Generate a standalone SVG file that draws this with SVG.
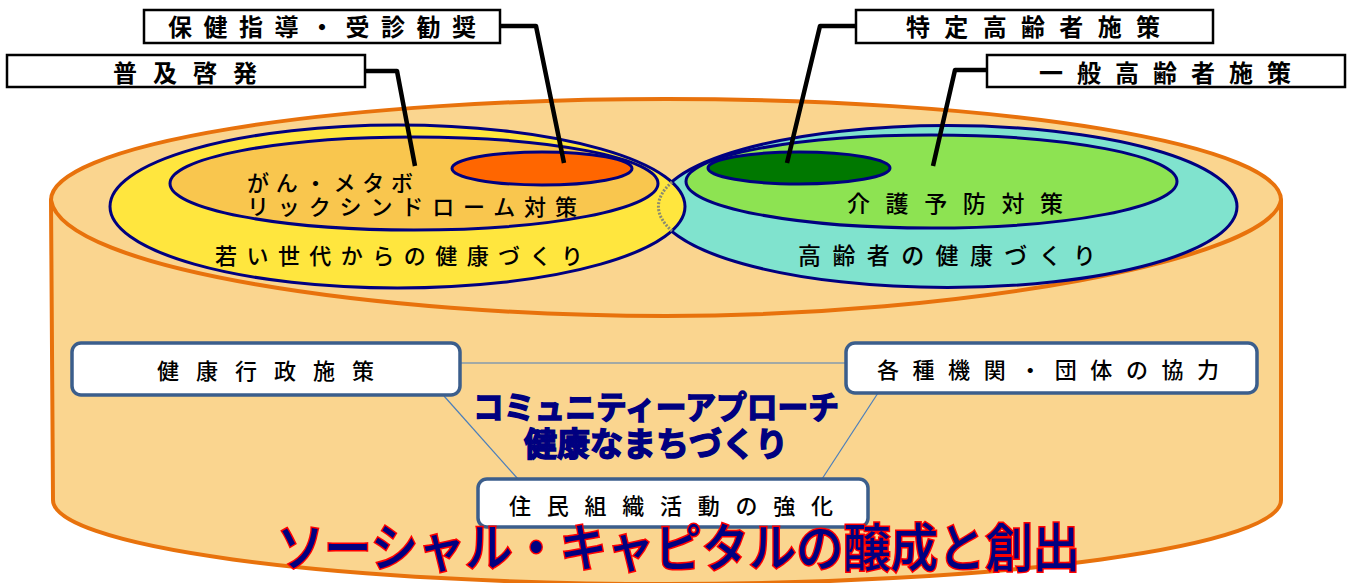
<svg xmlns="http://www.w3.org/2000/svg" width="1352" height="583" viewBox="0 0 1352 583">
<style>
.cyl{fill:#FAD58F;stroke:#E8720C;stroke-width:4;stroke-linejoin:round}
.ell{stroke:#000080;stroke-width:3}
.t{font-family:"Noto Sans CJK JP","Noto Sans CJK SC",sans-serif;fill:#000;dominant-baseline:central;font-weight:500}
.lb{font-weight:bold}
.lbl{fill:#fff;stroke:#000;stroke-width:2.5}
.rbox{fill:#fff;stroke:#3B5E8C;stroke-width:3.5}
.lead{fill:none;stroke:#000;stroke-width:4.5;stroke-linejoin:round}
.thin{fill:none;stroke:#4A7EBB;stroke-width:1.2}
</style>
<rect width="1352" height="583" fill="#fff"/>
<g id="cylinder">
  <path class="cyl" d="M51,200 L53,500 A614,84 0 0 0 1281,500 L1281,200 Z"/>
  <path class="cyl" d="M51,200 A615,101 0 0 1 1281,200 C1270,260 960,316 666,316 C380,316 62,270 51,200 Z"/>
</g>
<g id="elderly">
  <ellipse class="ell" cx="947.5" cy="206.5" rx="289.5" ry="81" fill="#80E3CE"/>
  <ellipse class="ell" cx="931.5" cy="181.5" rx="245.5" ry="46.5" fill="#8DE352"/>
  <ellipse class="ell" cx="799" cy="168" rx="91" ry="16" fill="#007800" stroke-width="2.5"/>
</g>
<g id="young">
  <ellipse class="ell" cx="397.5" cy="206.5" rx="287.5" ry="81.5" fill="#FFE63E"/>
  <ellipse class="ell" cx="414" cy="183.5" rx="244" ry="46.5" fill="#F9C64E"/>
  <ellipse class="ell" cx="542" cy="168.5" rx="90" ry="16.5" fill="#FF6600" stroke-width="2.5"/>
  <path d="M672,182 A289.5,81 0 0 0 672,231" fill="none" stroke="#8A8A70" stroke-width="3" stroke-dasharray="2 1.5"/>
</g>
<g id="ellipse-labels">
  <text class="t" font-size="22"><tspan x="247" y="181" textLength="166" lengthAdjust="spacing">がん・メタボ</tspan><tspan x="247" y="205" textLength="330" lengthAdjust="spacing">リックシンドローム対策</tspan></text>
  <text class="t" x="215" y="254" font-size="22" textLength="368" lengthAdjust="spacing">若い世代からの健康づくり</text>
  <text class="t" x="847" y="201.5" font-size="23" textLength="216" lengthAdjust="spacing">介護予防対策</text>
  <text class="t" x="798" y="254" font-size="23" textLength="298" lengthAdjust="spacing">高齢者の健康づくり</text>
</g>
<g id="connectors">
  <polyline class="lead" points="500,26 536,26 564,163"/>
  <polyline class="lead" points="365,71 397,71 415,166"/>
  <polyline class="lead" points="856,26 820,26 787,163"/>
  <polyline class="lead" points="987,70 955,70 933,166"/>
  <line class="thin" x1="460" y1="363" x2="846" y2="363"/>
  <line class="thin" x1="444" y1="396" x2="518" y2="479"/>
  <line class="thin" x1="878" y1="393" x2="822" y2="479"/>
</g>
<g id="label-hoken">
  <rect class="lbl" x="144" y="10" width="356" height="33"/>
  <text class="t lb" x="168" y="25.5" font-size="24" textLength="308" lengthAdjust="spacing">保健指導・受診勧奨</text>
</g>
<g id="label-fukyu">
  <rect class="lbl" x="7" y="55" width="358" height="32"/>
  <text class="t lb" x="113" y="71" font-size="24" textLength="144" lengthAdjust="spacing">普及啓発</text>
</g>
<g id="label-tokutei">
  <rect class="lbl" x="856" y="10" width="357" height="33"/>
  <text class="t lb" x="906" y="25.5" font-size="24" textLength="254" lengthAdjust="spacing">特定高齢者施策</text>
</g>
<g id="label-ippan">
  <rect class="lbl" x="987" y="55" width="358" height="32"/>
  <text class="t lb" x="1039" y="71" font-size="24" textLength="252" lengthAdjust="spacing">一般高齢者施策</text>
</g>
<g id="box-gyosei">
  <rect class="rbox" x="72" y="343" width="388" height="52" rx="9"/>
  <text class="t" x="157" y="369" font-size="22" textLength="217" lengthAdjust="spacing">健康行政施策</text>
</g>
<g id="box-kikan">
  <rect class="rbox" x="846" y="343" width="411" height="50" rx="9"/>
  <text class="t" x="877" y="368" font-size="22" textLength="342" lengthAdjust="spacing">各種機関・団体の協力</text>
</g>
<g id="box-jumin">
  <rect class="rbox" x="478" y="479" width="390" height="48" rx="9"/>
  <text class="t" x="509" y="504" font-size="22" textLength="324" lengthAdjust="spacing">住民組織活動の強化</text>
</g>
<g id="center-title">
  <text class="t lb" font-size="32" stroke="#000080" stroke-width="1.5" style="fill:#000080"><tspan x="473" y="405" textLength="366" lengthAdjust="spacingAndGlyphs">コミュニティーアプローチ</tspan><tspan x="524" y="442" font-size="33" textLength="264" lengthAdjust="spacingAndGlyphs">健康なまちづくり</tspan></text>
</g>
<g id="bottom-title">
  <text class="t" x="277" y="544" font-size="52" stroke="#FF0000" stroke-width="3" paint-order="stroke" style="fill:#000080" textLength="803" lengthAdjust="spacingAndGlyphs">ソーシャル・キャピタルの醸成と創出</text>
</g>
</svg>
